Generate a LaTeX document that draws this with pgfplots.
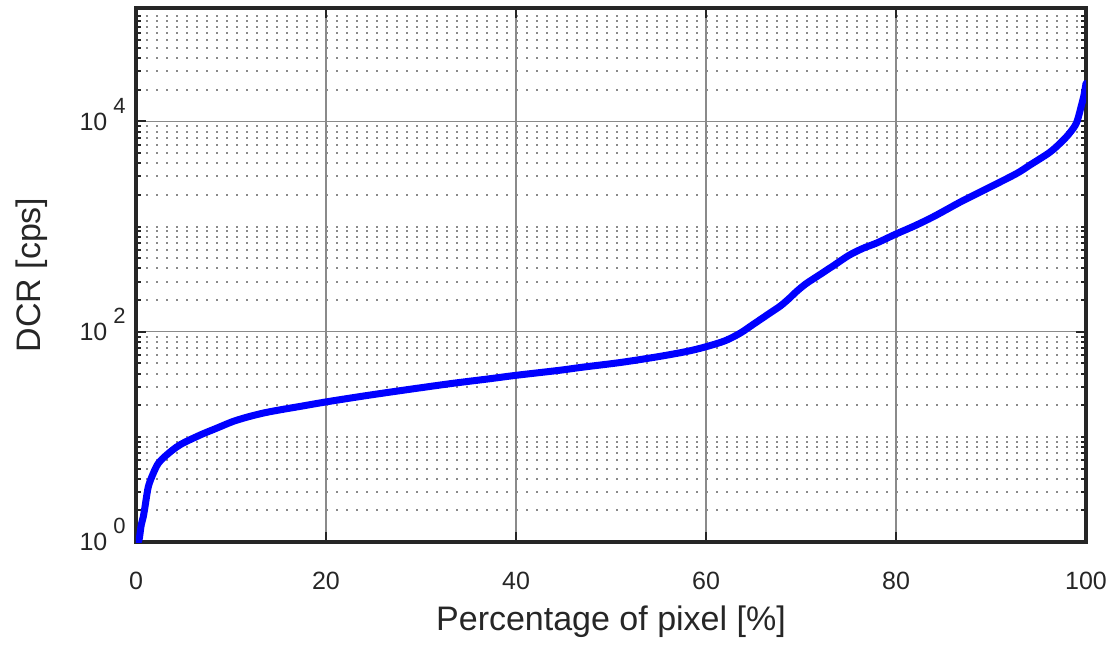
\documentclass[border=0pt]{standalone}
\usepackage{pgfplots}
\pgfplotsset{compat=1.18}
\usepackage{fontspec}
\setmainfont{Liberation Sans}
\definecolor{axc}{HTML}{262626}
\definecolor{grc}{HTML}{8A8A8A}
\newcommand{\tp}[1]{10\hspace{3pt}\smash{\raisebox{8.5pt}{\fontsize{11}{11}\selectfont #1}}}
\begin{document}
\begin{tikzpicture}
\path[use as bounding box] (-68pt,-51pt) rectangle (489pt,271pt);
\begin{axis}[
  at={(0,0)}, anchor=south west,
  scale only axis, width=475pt, height=267pt,
  ymode=log, xmin=0, xmax=100, ymin=1, ymax=1.2e5,
  /pgf/number format/assume math mode=true,
  xtick={0,20,40,60,80,100},
  ytick={1,100,10000}, yticklabels={\tp{0},\tp{2},\tp{4}},
  minor ytick={2,3,4,5,6,7,8,9,10,20,30,40,50,60,70,80,90,200,300,400,500,600,700,800,900,1000,2000,3000,4000,5000,6000,7000,8000,9000,20000,30000,40000,50000,60000,70000,80000,90000,100000},
  xmajorgrids, ymajorgrids, yminorgrids,
  major grid style={grc, line width=0.75pt},
  minor grid style={grc, line width=1pt, dash pattern=on 1pt off 4pt},
  tick pos=both, tick align=inside,
  major tick length=5pt, minor tick length=2.5pt,
  every tick/.style={axc, line width=1pt},
  axis line style={axc, line width=2pt},
  tick label style={font=\fontsize{12.5}{15}\selectfont, text=axc},
  xticklabel style={anchor=north, inner sep=0pt, yshift=-15pt},
  yticklabel style={anchor=east, inner sep=0pt, xshift=-5pt},
  xlabel={Percentage of pixel [\%]},
  ylabel={DCR [cps]},
  label style={font=\fontsize{17}{20}\selectfont, text=axc},
  xlabel style={at={(axis description cs:0.5,-0.118)}, anchor=north, inner sep=0pt},
  ylabel style={at={(axis description cs:-0.1274,0.5)}, anchor=north, inner sep=0pt},
]
\addplot[blue, line width=3.5pt, line join=round, line cap=round, smooth] coordinates {
(0.2,1.0) (0.35,1.08) (0.55,1.45) (0.77,1.74) (0.95,2.17) (1.3,3.36) (1.82,4.5)
(2.35,5.6) (3.23,6.74) (4.63,8.4) (6.74,10.4) (8.5,12.1) (10.2,14.0) (11.8,15.5)
(13.6,17.0) (15.5,18.3) (17.3,19.5) (20,21.5) (24,24.5) (27.8,27.5) (33,32)
(37,35.5) (40,38.5) (44.6,43) (47,46) (51,51) (55,58) (58,65) (60,72) (62,82)
(63.6,97) (65,118) (66.7,150) (67.8,175) (68.7,205) (69.5,240) (70.5,285)
(72,350) (73.5,430) (75,530) (76.5,620) (78,700) (80,850) (82,1020) (84,1250)
(86.7,1700) (88,1950) (90,2400) (92.7,3200) (94,3800) (96.2,5100) (97.5,6500)
(98.3,7800) (99,9700) (99.5,14000) (99.8,18000) (100,23000)
};
\end{axis}
\end{tikzpicture}
\end{document}
